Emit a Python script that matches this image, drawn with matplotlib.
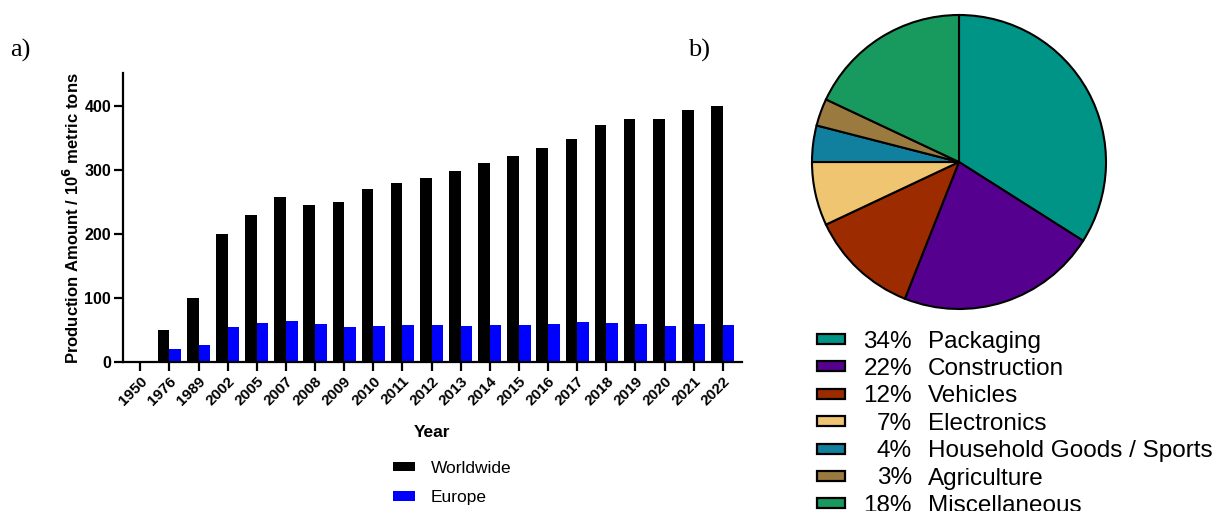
import matplotlib
matplotlib.use("Agg")
import matplotlib.pyplot as plt
from matplotlib.patches import Rectangle
import numpy as np

plt.rcParams['font.family'] = ['Liberation Sans', 'DejaVu Sans']

# ---- data -------------------------------------------------------------
years = ["1950", "1976", "1989", "2002", "2005", "2007", "2008", "2009", "2010",
         "2011", "2012", "2013", "2014", "2015", "2016", "2017", "2018", "2019",
         "2020", "2021", "2022"]
worldwide = [1.5, 50, 100, 200, 230, 257, 245, 250, 270, 280, 288, 299, 311,
             322, 334, 348, 370, 379, 380, 394, 400]
europe = [0.5, 20, 27, 55, 61, 65, 60, 55, 57, 58, 58, 57, 58, 57.5, 59, 63,
          61, 59.5, 57, 60, 58]

sectors = ["Packaging", "Construction", "Vehicles", "Electronics",
           "Household Goods / Sports", "Agriculture", "Miscellaneous"]
shares = [34, 22, 12, 7, 4, 3, 18]
sector_colors = ["#009487", "#55008F", "#9C2B00", "#EFC572",
                 "#117F9E", "#9A7A3E", "#189A5E"]

W, H = 1217, 511
fig = plt.figure(figsize=(W / 100, H / 100), dpi=100)


def fx(px):
    return px / W


def fy(py):
    return 1 - py / H


# ---- a) production bar chart ------------------------------------------
ax = fig.add_axes([fx(123), fy(362.3), fx(741.7) - fx(123), fy(73) - fy(362.3)])
x = np.arange(len(years))
bw = 0.4
ax.bar(x - bw / 2, worldwide, bw, color="black", label="Worldwide")
ax.bar(x + bw / 2, europe, bw, color="#0000FF", label="Europe")
ax.set_xlim(-0.594, 20.65)
ax.set_ylim(0, 451)
ax.set_yticks([0, 100, 200, 300, 400])
ax.set_xticks(x)
ax.set_xticklabels(years, rotation=45, ha="right", va="top",
                   rotation_mode="anchor", fontweight="bold", fontsize=11)
for lab in ax.get_yticklabels():
    lab.set_fontweight("bold")
    lab.set_fontsize(11.5)
for side in ("top", "right"):
    ax.spines[side].set_visible(False)
for side in ("left", "bottom"):
    ax.spines[side].set_linewidth(1.6)
ax.tick_params(axis="both", width=1.6, length=6.5)
ax.tick_params(axis="x", pad=2)
ax.tick_params(axis="y", pad=2)
ax.set_ylabel("Production Amount / 10$^{\\mathbf{6}}$ metric tons",
              fontweight="bold", fontsize=12, labelpad=2)
ax.set_xlabel("Year", fontweight="bold", fontsize=12.5, labelpad=12)

leg = ax.legend(loc="center", bbox_to_anchor=(fx(452), fy(483)),
                bbox_transform=fig.transFigure, frameon=False, fontsize=12.5,
                handlelength=1.3, handleheight=0.5, handletextpad=0.9,
                labelspacing=0.85)

fig.text(fx(10), fy(50), "a)", family="Liberation Serif", fontsize=19,
         va="center", ha="left")
fig.text(fx(688), fy(50), "b)", family="Liberation Serif", fontsize=19,
         va="center", ha="left")

# ---- b) usage pie chart -----------------------------------------------
cx, cy, r = 959, 162, 147
half = 160
pax = fig.add_axes([fx(cx - half), fy(cy + half), 2 * half / W, 2 * half / H])
pax.pie(shares, colors=sector_colors, startangle=90, counterclock=False,
        wedgeprops=dict(edgecolor="black", linewidth=1.5))
lim = half / r
pax.set_xlim(-lim, lim)
pax.set_ylim(-lim, lim)
pax.set_aspect("equal")
pax.axis("off")

row0, step = 339, 27.4
for i, (name, share, col) in enumerate(zip(sectors, shares, sector_colors)):
    yc = row0 + i * step
    fig.patches.append(Rectangle((fx(817), fy(yc + 5)), fx(845) - fx(817),
                                 fy(yc - 5) - fy(yc + 5), transform=fig.transFigure,
                                 facecolor=col, edgecolor="black", linewidth=1.6))
    fig.text(fx(912), fy(yc), f"{share}%", ha="right", va="center_baseline",
             fontsize=17.5)
    fig.text(fx(928), fy(yc), name, ha="left", va="center_baseline", fontsize=17.5)

fig.savefig("out.png", dpi=100)
